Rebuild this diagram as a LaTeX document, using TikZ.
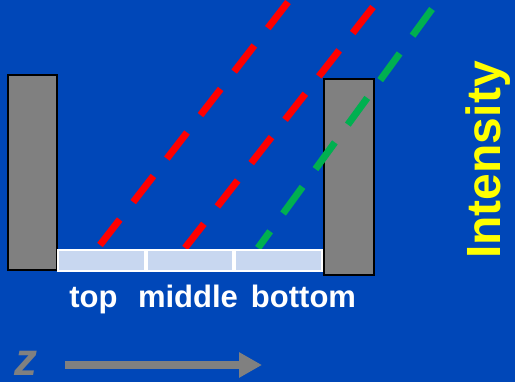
\documentclass[tikz,border=0pt]{standalone}
\usepackage{fontspec}
\setmainfont{Liberation Sans}
\usepackage{xcolor}
\usetikzlibrary{arrows.meta, positioning, math}
\definecolor{sblue}{RGB}{0,71,184}
\definecolor{sgray}{RGB}{128,128,128}
\definecolor{scell}{RGB}{200,215,240}
\definecolor{sred}{RGB}{255,0,0}
\definecolor{sgreen}{RGB}{0,176,80}
\definecolor{syellow}{RGB}{255,255,0}
\tikzset{
  wall/.style={draw=black, fill=sgray, line width=2pt},
  cell/.style={draw=white, fill=scell, line width=2pt, minimum width=86.7pt, minimum height=21pt, inner sep=0pt},
  ray/.style={line width=7pt, dash pattern=on 33pt off 22pt},
  lbl/.style={text=white, font=\bfseries\fontsize{31}{31}\selectfont, anchor=base}
}

\begin{document}
\begin{tikzpicture}[x=1pt, y=-1pt]

\tikzmath{
\W = 515;
\H = 382;
\ys = 260.5;%strip centre
}

\fill[sblue] (0,0) rectangle (\W,\H);
\useasboundingbox (0,0) rectangle (\W,\H);

% red rays, drawn from the top down
\foreach \xa/\ya/\xb/\yb in {288/2/100/245, 373/7/185/248}{
\draw[ray, sred] (\xa,\ya) -- (\xb,\yb);
}

% walls
\draw[wall] (8,75) rectangle (57,270);
\draw[wall] (324,79) rectangle (374,275);

% green ray in front of the wall
\draw[ray, sgreen] (432,9) -- (258,248);

% strip
\node[cell] (celltop) at (101.3,\ys) {};
\node[cell, right=0pt of celltop] (cellmid) {};
\node[cell, right=0pt of cellmid] (cellbot) {};

\node[lbl] (ltop) at (93.5,308) {top};
\node[lbl] (lmid) at (188,308) {middle};
\node[lbl] (lbot) at (303.5,308) {bottom};

\node[text=syellow, font=\bfseries\fontsize{48}{48}\selectfont, rotate=90] (intens) at (488,160) {Intensity};

% z axis
\node[text=sgray, font=\bfseries\itshape\fontsize{46}{46}\selectfont, anchor=base, inner sep=0pt] (zlbl) at (26,376) {z};
\coordinate (zstart) at (65,365);
\coordinate (zend) at (262,365);
\draw[sgray, line width=8pt, -{Triangle[length=23pt, width=24pt]}] (zstart) -- (zend);

\end{tikzpicture}
\end{document}
